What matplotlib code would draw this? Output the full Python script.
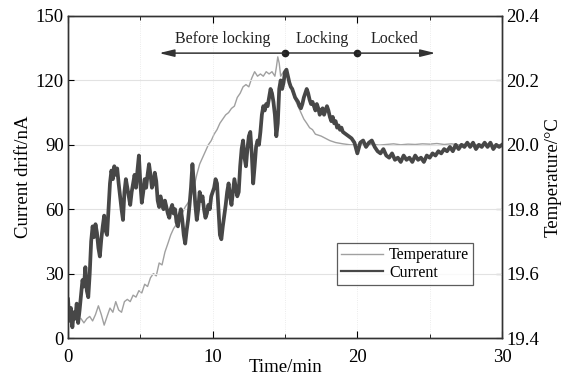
import numpy as np
import matplotlib
matplotlib.use("Agg")
import matplotlib.pyplot as plt
from matplotlib.lines import Line2D

plt.rcParams['font.family'] = ['Liberation Serif', 'DejaVu Serif']
plt.rcParams['mathtext.fontset'] = 'stix'

# Current drift (nA)
current_time = [
    0.0, 0.1, 0.2, 0.3, 0.4, 0.5, 0.6, 0.7, 0.8, 0.9,
    1.0, 1.1, 1.2, 1.3, 1.4, 1.5, 1.6, 1.7, 1.8, 1.9,
    2.0, 2.1, 2.2, 2.3, 2.4, 2.5, 2.6, 2.7, 2.8, 2.9,
    3.0, 3.1, 3.2, 3.3, 3.4, 3.5, 3.6, 3.7, 3.8, 3.9,
    4.0, 4.1, 4.2, 4.3, 4.4, 4.5, 4.6, 4.7, 4.8, 4.9,
    5.0, 5.1, 5.2, 5.3, 5.4, 5.5, 5.6, 5.7, 5.8, 5.9,
    6.0, 6.1, 6.2, 6.3, 6.4, 6.5, 6.6, 6.7, 6.8, 6.9,
    7.0, 7.1, 7.2, 7.3, 7.4, 7.5, 7.6, 7.7, 7.8, 7.9,
    8.0, 8.1, 8.2, 8.3, 8.4, 8.5, 8.6, 8.7, 8.8, 8.9,
    9.0, 9.1, 9.2, 9.3, 9.4, 9.5, 9.6, 9.7, 9.8, 9.9,
    10.0, 10.1, 10.2, 10.3, 10.4, 10.5, 10.6, 10.7, 10.8, 10.9,
    11.0, 11.1, 11.2, 11.3, 11.4, 11.5, 11.6, 11.7, 11.8, 11.9,
    12.0, 12.1, 12.2, 12.3, 12.4, 12.5, 12.6, 12.7, 12.8, 12.9,
    13.0, 13.1, 13.2, 13.3, 13.4, 13.5, 13.6, 13.7, 13.8, 13.9,
    14.0, 14.1, 14.2, 14.3, 14.4, 14.5, 14.6, 14.7, 14.8, 14.9,
    15.0, 15.1, 15.2, 15.3, 15.4, 15.5, 15.6, 15.7, 15.8, 15.9,
    16.0, 16.1, 16.2, 16.3, 16.4, 16.5, 16.6, 16.7, 16.8, 16.9,
    17.0, 17.1, 17.2, 17.3, 17.4, 17.5, 17.6, 17.7, 17.8, 17.9,
    18.0, 18.1, 18.2, 18.3, 18.4, 18.5, 18.6, 18.7, 18.8, 18.9,
    19.0, 19.2, 19.4, 19.6, 19.8, 20.0, 20.2, 20.4, 20.6, 20.8,
    21.0, 21.2, 21.4, 21.6, 21.8, 22.0, 22.2, 22.4, 22.6, 22.8,
    23.0, 23.2, 23.4, 23.6, 23.8, 24.0, 24.2, 24.4, 24.6, 24.8,
    25.0, 25.2, 25.4, 25.6, 25.8, 26.0, 26.2, 26.4, 26.6, 26.8,
    27.0, 27.2, 27.4, 27.6, 27.8, 28.0, 28.2, 28.4, 28.6, 28.8,
    29.0, 29.2, 29.4, 29.6, 29.8, 30.0,
]
current_nA = [
    18, 8, 14, 5, 12, 9, 16, 7, 13, 20,
    27, 24, 33, 22, 19, 30, 45, 52, 47, 53,
    49, 42, 38, 46, 52, 57, 50, 48, 60, 72,
    78, 74, 80, 76, 79, 72, 66, 60, 55, 68,
    74, 70, 66, 62, 68, 72, 76, 70, 78, 85,
    72, 63, 68, 74, 70, 76, 81, 76, 70, 72,
    77, 73, 64, 61, 66, 63, 60, 64, 61, 58,
    56, 60, 62, 58, 60, 54, 52, 57, 60, 55,
    48, 44, 50, 55, 62, 70, 81, 72, 62, 55,
    60, 68, 64, 66, 60, 56, 58, 62, 60, 66,
    68, 70, 74, 72, 60, 48, 46, 52, 57, 62,
    68, 72, 66, 62, 68, 74, 70, 66, 68, 80,
    88, 92, 84, 80, 88, 94, 96, 86, 72, 80,
    89, 92, 90, 96, 104, 108, 106, 109, 108, 112,
    116, 114, 110, 104, 94, 100, 116, 120, 116, 119,
    124, 125, 122, 119, 117, 116, 114, 112, 111, 110,
    108, 107, 109, 112, 114, 116, 114, 111, 109, 110,
    108, 106, 109, 107, 104, 106, 107, 104, 106, 108,
    106, 103, 101, 103, 100, 101, 98, 99, 97, 98,
    96, 95, 94, 93, 91, 86, 91, 92, 89, 91,
    92, 89, 87, 86, 88, 85, 84, 86, 83, 84,
    82, 85, 83, 84, 82, 85, 83, 84, 82, 85,
    84, 86, 85, 87, 86, 88, 87, 89, 87, 90,
    88, 90, 89, 91, 89, 91, 88, 90, 89, 91,
    89, 91, 88, 90, 89, 90,
]

# Temperature (deg C)
temp_time = [
    0.9, 1.1, 1.3, 1.5, 1.7, 1.9, 2.1, 2.3, 2.5, 2.7,
    2.9, 3.1, 3.3, 3.5, 3.7, 3.9, 4.1, 4.3, 4.5, 4.7,
    4.9, 5.1, 5.3, 5.5, 5.7, 5.9, 6.1, 6.3, 6.5, 6.7,
    6.9, 7.1, 7.3, 7.5, 7.7, 7.9, 8.1, 8.3, 8.5, 8.7,
    8.9, 9.1, 9.3, 9.5, 9.7, 9.9, 10.1, 10.3, 10.5, 10.7,
    10.9, 11.1, 11.3, 11.5, 11.7, 11.9, 12.1, 12.3, 12.5, 12.7,
    12.9, 13.1, 13.3, 13.5, 13.7, 13.9, 14.1, 14.3, 14.4, 14.5,
    14.6, 14.7, 14.9, 15.1, 15.3, 15.5, 15.7, 15.9, 16.1, 16.3,
    16.5, 16.7, 16.9, 17.1, 17.3, 17.5, 17.8, 18.1, 18.5, 19.0,
    19.5, 20.0, 20.5, 21.0, 21.5, 22.0, 22.5, 23.0, 23.5, 24.0,
    24.5, 25.0, 25.5, 26.0, 26.5, 27.0, 27.5, 28.0, 28.5, 29.0,
    29.5, 30.0,
]
temperature_C = [
    19.460, 19.447, 19.460, 19.467, 19.453, 19.473, 19.500, 19.473, 19.440, 19.467,
    19.493, 19.480, 19.513, 19.487, 19.480, 19.513, 19.520, 19.513, 19.533, 19.527,
    19.547, 19.540, 19.567, 19.560, 19.587, 19.600, 19.593, 19.633, 19.627, 19.667,
    19.693, 19.720, 19.740, 19.753, 19.767, 19.787, 19.807, 19.820, 19.840, 19.867,
    19.907, 19.940, 19.960, 19.980, 20.000, 20.013, 20.033, 20.047, 20.067, 20.080,
    20.093, 20.100, 20.113, 20.120, 20.147, 20.160, 20.180, 20.187, 20.180, 20.207,
    20.227, 20.213, 20.220, 20.213, 20.227, 20.220, 20.227, 20.213, 20.240, 20.273,
    20.253, 20.213, 20.227, 20.220, 20.193, 20.167, 20.140, 20.120, 20.100, 20.080,
    20.067, 20.053, 20.047, 20.033, 20.030, 20.027, 20.020, 20.013, 20.007, 20.003,
    20.000, 20.000, 19.998, 20.002, 19.999, 20.001, 20.003, 20.000, 20.002, 20.001,
    20.003, 20.002, 20.004, 20.001, 20.003, 20.000, 20.002, 19.999, 20.001, 20.000,
    19.998, 20.000,
]

# phase annotation
phase_marks = [6.3, 15, 20, 25.4]
phase_names = ["Before locking", "Locking", "Locked"]
phase_text_x = [10.7, 17.6, 22.6]
phase_y = 132.7

fig = plt.figure(figsize=(5.73, 3.78), dpi=100)
ax1 = fig.add_axes([0.1187, 0.1058, 0.7574, 0.8519])
ax2 = ax1.twinx()
ax1.set_zorder(ax2.get_zorder() + 1)
ax1.patch.set_visible(False)

ax2.plot(temp_time, temperature_C, color='#a0a0a0', lw=1.0)
ax1.plot(current_time, current_nA, color='#474747', lw=2.7)

ax1.set_xlim(0, 30)
ax1.set_ylim(0, 150)
ax2.set_ylim(19.4, 20.4)
ax1.set_xticks([0, 10, 20, 30])
ax1.set_xticks([5, 15, 25], minor=True)
ax1.set_yticks([0, 30, 60, 90, 120, 150])
ax2.set_yticks([19.4, 19.6, 19.8, 20.0, 20.2, 20.4])
ax2.set_yticklabels(["19.4", "19.6", "19.8", "20.0", "20.2", "20.4"])

ax1.yaxis.grid(True, color='#e2e2e2', lw=0.8)
ax1.xaxis.grid(True, which='both', color='#e6e6e6', lw=0.6, ls=':')
ax1.set_axisbelow(True)

ax1.tick_params(axis='x', which='both', direction='in', top=True, labelsize=13.5, pad=8)
ax1.tick_params(axis='x', which='major', length=5)
ax1.tick_params(axis='x', which='minor', length=3)
ax1.tick_params(axis='y', direction='in', length=4, labelsize=13.5, pad=3)
ax2.tick_params(axis='y', direction='in', length=4, labelsize=13.5, pad=3)

for ax in (ax1, ax2):
    for s in ax.spines.values():
        s.set_color('#333333')
        s.set_linewidth(1.0)

ax1.set_xlabel("Time/min", fontsize=13.5, labelpad=-5)
ax1.set_ylabel("Current drift/nA", fontsize=13.5, labelpad=3)
ax2.set_ylabel("Temperature/\u00b0C", fontsize=13.5, labelpad=4)

# phase arrows
arrow_kw = dict(arrowstyle='-|>,head_length=0.9,head_width=0.22', color='#333333', lw=1.1,
                shrinkA=0, shrinkB=0)
ax1.annotate('', xy=(phase_marks[0], phase_y), xytext=(phase_marks[1], phase_y), arrowprops=arrow_kw)
ax1.plot([phase_marks[1], phase_marks[2]], [phase_y, phase_y], color='#333333', lw=1.1)
ax1.annotate('', xy=(phase_marks[3], phase_y), xytext=(phase_marks[2], phase_y), arrowprops=arrow_kw)
ax1.plot(phase_marks[1:3], [phase_y, phase_y], 'o', color='#222222', ms=4.5)
for name, tx in zip(phase_names, phase_text_x):
    ax1.text(tx, phase_y + 3, name, ha='center', va='bottom', fontsize=11.5, color='#222222')

handles = [Line2D([], [], color='#a0a0a0', lw=1.0), Line2D([], [], color='#474747', lw=1.6)]
leg = ax1.legend(handles, ["Temperature", "Current"], loc='lower left',
                 bbox_to_anchor=(0.62, 0.165), fontsize=11.5, frameon=True, fancybox=False,
                 edgecolor='#333333', handlelength=2.6, borderpad=0.25, labelspacing=0.1,
                 handletextpad=0.4, borderaxespad=0.0)
leg.get_frame().set_linewidth(0.9)

fig.savefig("out.png", dpi=100)
